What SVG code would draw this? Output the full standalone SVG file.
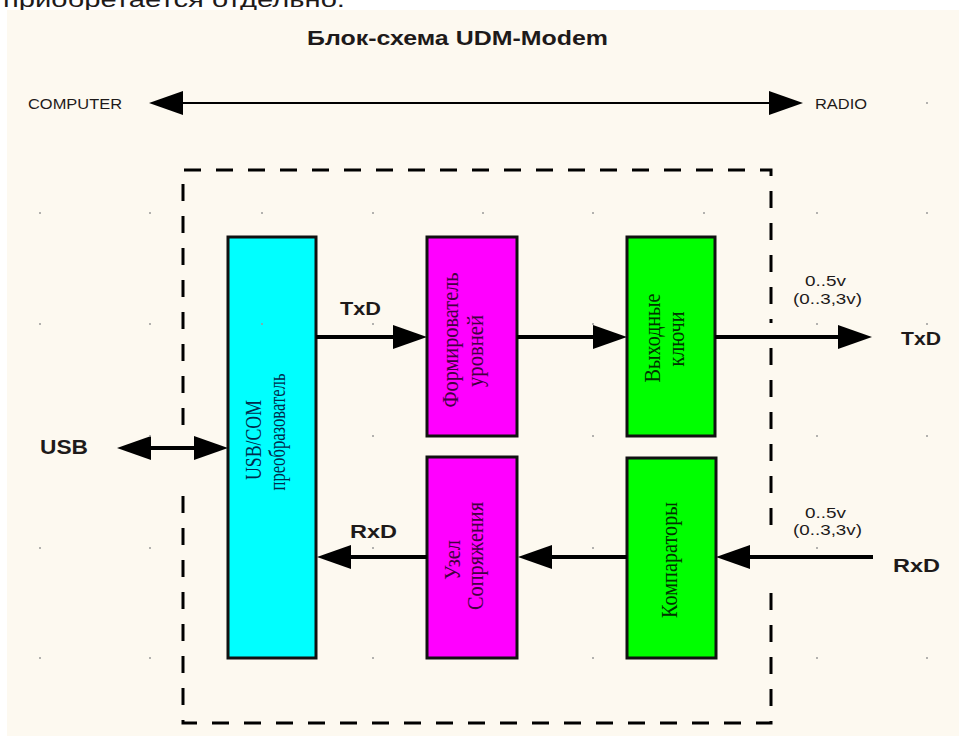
<svg xmlns="http://www.w3.org/2000/svg" width="959" height="736" viewBox="0 0 959 736">
<style>
.lbl{font-family:"Liberation Sans",Arial,sans-serif;fill:#1e1a1a}
.b{font-weight:bold}
.blk{stroke:#111;stroke-width:3}
.bt{font-family:"Liberation Serif","Times New Roman",serif;font-size:19px;text-anchor:middle}
.tc{fill:#002b4c}
.tm{fill:#420040}
.tg{fill:#003300}
.wire{stroke:#000;stroke-width:4;fill:none}
.dash{stroke:#000;stroke-width:3;fill:none;stroke-dasharray:17 15}
.dot{fill:#9a9a9a}
</style>
<defs>
<marker id="ah" markerUnits="userSpaceOnUse" viewBox="0 0 34 24" markerWidth="34" markerHeight="24" refX="24" refY="12" orient="auto-start-reverse">
<path d="M0,0 L34,12 L0,24 z" fill="#000"/>
</marker>
</defs>
<rect width="959" height="736" fill="#fff"/>
<text class="lbl" x="3" y="7" font-size="22" textLength="342" lengthAdjust="spacingAndGlyphs" fill="#000">приобретается отдельно.</text>
<rect x="7" y="10" width="952" height="726" fill="#fdf9f0"/>

<g id="title"><text class="lbl b" x="307" y="45" font-size="20" textLength="301" lengthAdjust="spacingAndGlyphs">Блок-схема UDM-Modem</text></g>

<g id="boundary">
<path class="dash" d="M183,425 V170 H771 V323"/>
<path class="dash" d="M771,348 V535"/>
<path class="dash" d="M771,593 V723 H183 V493"/>
</g>

<g id="usbcom">
<rect class="blk" x="228" y="237" width="88" height="421" fill="#00ffff"/>
<text class="bt tc" transform="translate(261,440) rotate(-90) scale(1,1.2)" textLength="80" lengthAdjust="spacingAndGlyphs">USB/COM</text>
<text class="bt tc" transform="translate(285,432) rotate(-90) scale(1,1.2)" textLength="117" lengthAdjust="spacingAndGlyphs">преобразователь</text>
</g>
<g id="former">
<rect class="blk" x="427" y="237" width="90" height="199" fill="#ff00ff"/>
<text class="bt tm" transform="translate(458,340) rotate(-90) scale(1,1.2)" textLength="135" lengthAdjust="spacingAndGlyphs">Формирователь</text>
<text class="bt tm" transform="translate(483,351) rotate(-90) scale(1,1.2)" textLength="72" lengthAdjust="spacingAndGlyphs">уровней</text>
</g>
<g id="keys">
<rect class="blk" x="627" y="237" width="88" height="199" fill="#00ff00"/>
<text class="bt tg" transform="translate(660,338) rotate(-90) scale(1,1.2)" textLength="89" lengthAdjust="spacingAndGlyphs">Выходные</text>
<text class="bt tg" transform="translate(684,339) rotate(-90) scale(1,1.2)" textLength="55" lengthAdjust="spacingAndGlyphs">ключи</text>
</g>
<g id="interface">
<rect class="blk" x="427" y="457" width="90" height="201" fill="#ff00ff"/>
<text class="bt tm" transform="translate(460,560) rotate(-90) scale(1,1.2)" textLength="40" lengthAdjust="spacingAndGlyphs">Узел</text>
<text class="bt tm" transform="translate(483,556) rotate(-90) scale(1,1.2)" textLength="108" lengthAdjust="spacingAndGlyphs">Сопряжения</text>
</g>
<g id="comparators">
<rect class="blk" x="627" y="458" width="89" height="200" fill="#00ff00"/>
<text class="bt tg" transform="translate(677,560) rotate(-90) scale(1,1.2)" textLength="116" lengthAdjust="spacingAndGlyphs">Компараторы</text>
</g>

<g id="connectors">
<line x1="159" y1="103" x2="793" y2="103" stroke="#000" stroke-width="2" marker-start="url(#ah)" marker-end="url(#ah)"/>
<line class="wire" x1="127" y1="448" x2="218" y2="448" marker-start="url(#ah)" marker-end="url(#ah)"/>
<line class="wire" x1="316" y1="337" x2="417" y2="337" marker-end="url(#ah)"/>
<line class="wire" x1="517" y1="337" x2="617" y2="337" marker-end="url(#ah)"/>
<line class="wire" x1="715" y1="337" x2="862" y2="337" marker-end="url(#ah)"/>
<line class="wire" x1="873" y1="557" x2="726" y2="557" marker-end="url(#ah)"/>
<line class="wire" x1="627" y1="557" x2="528" y2="557" marker-end="url(#ah)"/>
<line class="wire" x1="427" y1="557" x2="327" y2="557" marker-end="url(#ah)"/>
</g>

<g id="labels">
<text class="lbl" x="28" y="109" font-size="15" textLength="94" lengthAdjust="spacingAndGlyphs">COMPUTER</text>
<text class="lbl" x="815" y="109" font-size="15" textLength="52" lengthAdjust="spacingAndGlyphs">RADIO</text>
<text class="lbl b" x="40" y="454" font-size="20" textLength="48" lengthAdjust="spacingAndGlyphs">USB</text>
<text class="lbl b" x="340" y="315" font-size="19" textLength="41" lengthAdjust="spacingAndGlyphs">TxD</text>
<text class="lbl b" x="350" y="538" font-size="19" textLength="47" lengthAdjust="spacingAndGlyphs">RxD</text>
<text class="lbl b" x="901" y="345" font-size="19" textLength="40" lengthAdjust="spacingAndGlyphs">TxD</text>
<text class="lbl b" x="893" y="572" font-size="19" textLength="47" lengthAdjust="spacingAndGlyphs">RxD</text>
<text class="lbl" x="805" y="286" font-size="14" textLength="41" lengthAdjust="spacingAndGlyphs">0..5v</text>
<text class="lbl" x="793" y="304" font-size="14" textLength="69" lengthAdjust="spacingAndGlyphs">(0..3,3v)</text>
<text class="lbl" x="805" y="518" font-size="14" textLength="41" lengthAdjust="spacingAndGlyphs">0..5v</text>
<text class="lbl" x="793" y="535" font-size="14" textLength="69" lengthAdjust="spacingAndGlyphs">(0..3,3v)</text>
</g>

<g id="grid">
<circle class="dot" cx="927" cy="103" r="1"/>
<circle class="dot" cx="40" cy="213" r="1"/><circle class="dot" cx="150" cy="213" r="1"/><circle class="dot" cx="262" cy="213" r="1"/><circle class="dot" cx="373" cy="213" r="1"/><circle class="dot" cx="483" cy="213" r="1"/><circle class="dot" cx="593" cy="213" r="1"/><circle class="dot" cx="704" cy="213" r="1"/><circle class="dot" cx="817" cy="213" r="1"/><circle class="dot" cx="927" cy="213" r="1"/>
<circle class="dot" cx="40" cy="324" r="1"/><circle class="dot" cx="150" cy="324" r="1"/><circle class="dot" cx="262" cy="324" r="1"/><circle class="dot" cx="373" cy="324" r="1"/><circle class="dot" cx="593" cy="324" r="1"/><circle class="dot" cx="817" cy="324" r="1"/><circle class="dot" cx="927" cy="324" r="1"/>
<circle class="dot" cx="150" cy="436" r="1"/><circle class="dot" cx="373" cy="436" r="1"/><circle class="dot" cx="593" cy="436" r="1"/><circle class="dot" cx="817" cy="436" r="1"/><circle class="dot" cx="927" cy="436" r="1"/>
<circle class="dot" cx="40" cy="548" r="1"/><circle class="dot" cx="150" cy="548" r="1"/><circle class="dot" cx="373" cy="548" r="1"/><circle class="dot" cx="593" cy="548" r="1"/><circle class="dot" cx="817" cy="548" r="1"/>
<circle class="dot" cx="40" cy="658" r="1"/><circle class="dot" cx="150" cy="658" r="1"/><circle class="dot" cx="373" cy="658" r="1"/><circle class="dot" cx="593" cy="658" r="1"/><circle class="dot" cx="817" cy="658" r="1"/><circle class="dot" cx="927" cy="658" r="1"/>
</g>
</svg>
